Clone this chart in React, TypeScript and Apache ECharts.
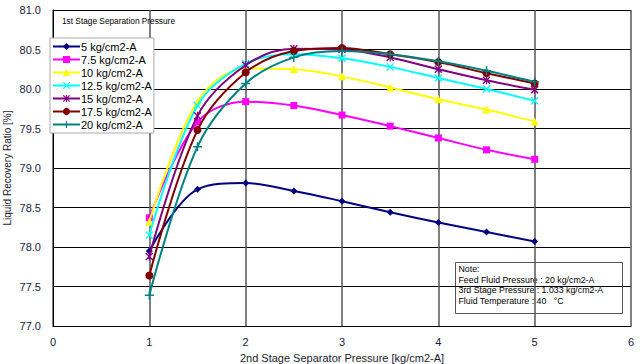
import React, { useEffect, useRef } from "react";
import * as echarts from "echarts";

const xValues = [1, 1.5, 2, 2.5, 3, 3.5, 4, 4.5, 5];
const seriesNames = [
  "5 kg/cm2-A",
  "7.5 kg/cm2-A",
  "10 kg/cm2-A",
  "12.5 kg/cm2-A",
  "15 kg/cm2-A",
  "17.5 kg/cm2-A",
  "20 kg/cm2-A",
];
const s5 = [77.95, 78.73, 78.81, 78.71, 78.58, 78.44, 78.31, 78.19, 78.07];
const s7_5 = [78.37, 79.58, 79.84, 79.79, 79.67, 79.53, 79.38, 79.23, 79.11];
const s10 = [78.32, 79.84, 80.26, 80.25, 80.16, 80.02, 79.87, 79.74, 79.59];
const s12_5 = [78.15, 79.79, 80.32, 80.44, 80.39, 80.28, 80.14, 80.0, 79.85];
const s15 = [77.88, 79.66, 80.3, 80.51, 80.5, 80.4, 80.25, 80.11, 79.99];
const s17_5 = [77.64, 79.48, 80.21, 80.48, 80.52, 80.44, 80.34, 80.2, 80.07];
const s20 = [77.39, 79.27, 80.07, 80.4, 80.48, 80.44, 80.35, 80.23, 80.09];
const allSeries = [s5, s7_5, s10, s12_5, s15, s17_5, s20];
const colors = ["#000080", "#FF00FF", "#FFFF00", "#00FFFF", "#800080", "#800000", "#008080"];

const X_SYM = "path://M0,1.2L1.2,0L5,3.8L8.8,0L10,1.2L6.2,5L10,8.8L8.8,10L5,6.2L1.2,10L0,8.8L3.8,5Z";
const STAR_SYM =
  "path://M0,1.2L1.2,0L5,3.8L8.8,0L10,1.2L6.2,5L10,8.8L8.8,10L5,6.2L1.2,10L0,8.8L3.8,5ZM4.3,0H5.7V10H4.3Z";
const PLUS_SYM = "path://M4.2,0H5.8V4.2H10V5.8H5.8V10H4.2V5.8H0V4.2H4.2Z";
const symbols = ["diamond", "rect", "triangle", X_SYM, STAR_SYM, "circle", PLUS_SYM];
const symbolSizes = [7, 7, 8, 8, 8, 8, 9];

const noteLines = [
  "Note:",
  "Feed Fluid Pressure : 20 kg/cm2-A",
  "3rd Stage Pressure : 1.033 kg/cm2-A",
  "Fluid Temperature : 40   \u00B0C",
];

export default function App() {
  const ref = useRef<HTMLDivElement>(null);
  useEffect(() => {
    if (!ref.current) return;
    const chart = echarts.init(ref.current, null, { renderer: "svg" });
    const font = "Liberation Sans, Arial, sans-serif";
    chart.setOption({
      animation: false,
      textStyle: { fontFamily: font },
      grid: {
        left: 53,
        right: 9,
        top: 10,
        bottom: 38,
        containLabel: false,
        outerBoundsMode: "none",
      },
      xAxis: {
        type: "value",
        min: 0,
        max: 6,
        interval: 1,
        name: "2nd Stage Separator Pressure [kg/cm2-A]",
        nameLocation: "middle",
        nameGap: 26,
        nameMoveOverlap: false,
        nameTextStyle: { fontSize: 11, color: "#1a1a2e", fontFamily: font },
        axisLine: { show: true, lineStyle: { color: "#000", width: 1 } },
        axisTick: { show: false },
        axisLabel: { fontSize: 11, color: "#1a1a40", margin: 10, fontFamily: font },
        splitLine: { show: true, lineStyle: { color: "#555", width: 1.5 } },
      },
      yAxis: {
        type: "value",
        min: 77,
        max: 81,
        interval: 0.5,
        name: "Liquid Recovery Ratio [%]",
        nameLocation: "middle",
        nameGap: 41,
        nameMoveOverlap: false,
        nameRotate: 90,
        nameTextStyle: { fontSize: 10, color: "#1a1a2e", fontFamily: font },
        axisLine: { show: true, lineStyle: { color: "#000", width: 1 } },
        axisTick: { show: false },
        axisLabel: {
          fontSize: 11,
          color: "#1a1a40",
          margin: 12,
          fontFamily: font,
          formatter: (v: number) => v.toFixed(1),
        },
        splitLine: { show: true, lineStyle: { color: "#000", width: 1 } },
      },
      legend: {
        orient: "vertical",
        left: 50,
        top: 38,
        backgroundColor: "#fff",
        borderColor: "#aaa",
        borderWidth: 1,
        padding: [3, 2, 3, 2],
        itemGap: 2,
        itemWidth: 27,
        itemHeight: 9,
        textStyle: { fontSize: 11, color: "#000", fontFamily: font, padding: [0, 0, 0, -4] },
        data: seriesNames,
      },
      series: allSeries.map((vals, i) => ({
        name: seriesNames[i],
        type: "line",
        smooth: 0.35,
        data: vals.map((v, j) => [xValues[j], v]),
        symbol: symbols[i],
        symbolSize: symbolSizes[i],
        lineStyle: { color: colors[i], width: 2 },
        itemStyle: { color: colors[i] },
        z: 3 + i,
      })),
      graphic: [
        {
          type: "text",
          left: 62,
          top: 17,
          style: { text: "1st Stage Separation Pressure", fontSize: 8.3, fill: "#000", fontFamily: font },
          z: 10,
        },
        {
          type: "group",
          left: 453,
          top: 260,
          z: 10,
          children: [
            {
              type: "rect",
              shape: { x: 0, y: 0, width: 167, height: 51 },
              style: { fill: "none", stroke: "#555", lineWidth: 1 },
            },
            ...noteLines.map((t, k) => ({
              type: "text",
              x: 3,
              y: 2 + k * 10.7,
              style: { text: t, fontSize: 8.8, fill: "#000", fontFamily: font },
            })),
          ],
        },
      ],
    });
    return () => chart.dispose();
  }, []);
  return (
    <div
      ref={ref}
      style={{ position: "absolute", left: 0, top: 0, width: 640, height: 364 }}
    />
  );
}
